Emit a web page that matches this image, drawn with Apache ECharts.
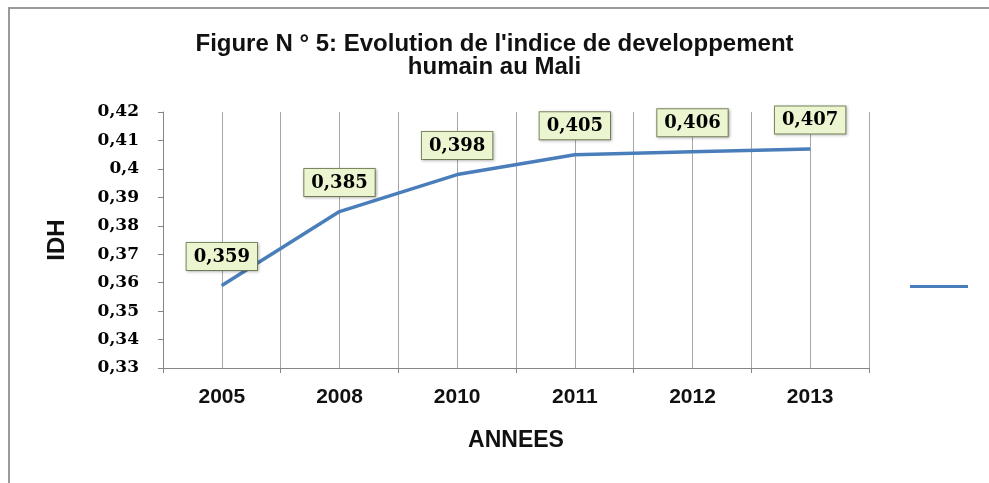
<!DOCTYPE html>
<html>
<head>
<meta charset="utf-8">
<script src="https://cdn.jsdelivr.net/npm/echarts@6/dist/echarts.min.js"></script>
<style>
  html, body { margin: 0; padding: 0; background: #fff; }
  #chart {
    position: absolute;
    left: 0; top: 0;
    width: 989px; height: 483px;
  }
  .frame {
    position: absolute;
    left: 8px; top: 7px; right: 0; bottom: 0;
    border-top: 2px solid #9a9a9a;
    border-left: 2px solid #9a9a9a;
    pointer-events: none;
  }
</style>
</head>
<body>
<div id="chart"></div>
<div class="frame"></div>
<script>
  // données
  const annees = ['2005', '2008', '2010', '2011', '2012', '2013']
  const idh = [0.359, 0.385, 0.398, 0.405, 0.406, 0.407]
  // ticks de l'axe Y
  const yMin = 0.33
  const yMax = 0.42
  const yStep = 0.01

  const sans = "'Liberation Sans', Arial, sans-serif"
  const serif = "'DejaVu Serif', 'Liberation Serif', serif"
  const virgule = v => String(v).replace('.', ',')

  // demi-categories pour les traits verticaux (centres + bords)
  const demi = []
  annees.forEach(() => { demi.push(''); demi.push('') })

  const chart = echarts.init(document.getElementById('chart'))
  chart.setOption({
    backgroundColor: '#ffffff',
    animation: false,
    title: {
      text: "Figure N ° 5: Evolution de l'indice de developpement\nhumain au Mali",
      left: 'center',
      top: 33,
      padding: [0, 0, 0, 10],
      textStyle: {
        fontFamily: sans,
        fontWeight: 'bold',
        fontSize: 24,
        lineHeight: 23,
        color: '#111'
      }
    },
    legend: {
      data: ['IDH'],
      left: 905,
      top: 280,
      icon: 'rect',
      itemWidth: 58,
      itemHeight: 3,
      formatter: () => '',
      textStyle: { fontSize: 1 }
    },
    grid: {
      left: 163,
      right: 120,
      top: 112,
      bottom: 115
    },
    xAxis: [
      {
        type: 'category',
        data: annees,
        boundaryGap: true,
        name: 'ANNEES',
        nameLocation: 'middle',
        nameGap: 61,
        nameTextStyle: {
          fontFamily: sans,
          fontWeight: 'bold',
          fontSize: 23,
          color: '#111'
        },
        axisLine: { lineStyle: { color: '#868686', width: 1 } },
        axisTick: { show: true, length: 5, lineStyle: { color: '#868686' } },
        axisLabel: {
          margin: 19,
          fontFamily: sans,
          fontWeight: 'bold',
          fontSize: 21,
          color: '#111'
        },
        splitLine: { show: false }
      },
      {
        type: 'category',
        data: demi,
        position: 'top',
        boundaryGap: true,
        axisLine: { show: false },
        axisTick: { show: false },
        axisLabel: { show: false },
        splitLine: { show: true, interval: 0, lineStyle: { color: '#a6a6a6', width: 1 } }
      }
    ],
    yAxis: {
      type: 'value',
      min: yMin,
      max: yMax,
      interval: yStep,
      name: 'IDH',
      nameLocation: 'middle',
      nameRotate: 90,
      nameGap: 94,
      nameTextStyle: {
        fontFamily: sans,
        fontWeight: 'bold',
        fontSize: 24,
        color: '#111'
      },
      axisLine: { show: true, lineStyle: { color: '#868686', width: 1 } },
      axisTick: { show: true, length: 5, lineStyle: { color: '#868686' } },
      axisLabel: {
        margin: 24,
        fontFamily: serif,
        fontWeight: 'bold',
        fontSize: 17,
        color: '#000',
        formatter: v => virgule(Math.round(v * 100) / 100)
      },
      splitLine: { show: false }
    },
    series: [
      {
        name: 'IDH',
        type: 'line',
        data: idh,
        showSymbol: true,
        symbol: 'circle',
        symbolSize: 1,
        color: '#4a7ebb',
        itemStyle: { color: '#4a7ebb' },
        lineStyle: { color: '#4a7ebb', width: 3.5 },
        label: {
          show: true,
          position: 'top',
          distance: 15,
          formatter: p => virgule(p.value),
          fontFamily: serif,
          fontWeight: 'bold',
          fontSize: 18,
          color: '#000',
          backgroundColor: '#ebf5cf',
          borderColor: '#7d8b62',
          borderWidth: 1,
          padding: [5, 7, 4, 7],
          shadowColor: 'rgba(0,0,0,0.25)',
          shadowBlur: 3,
          shadowOffsetX: 1,
          shadowOffsetY: 1
        }
      }
    ]
  })
</script>
</body>
</html>
